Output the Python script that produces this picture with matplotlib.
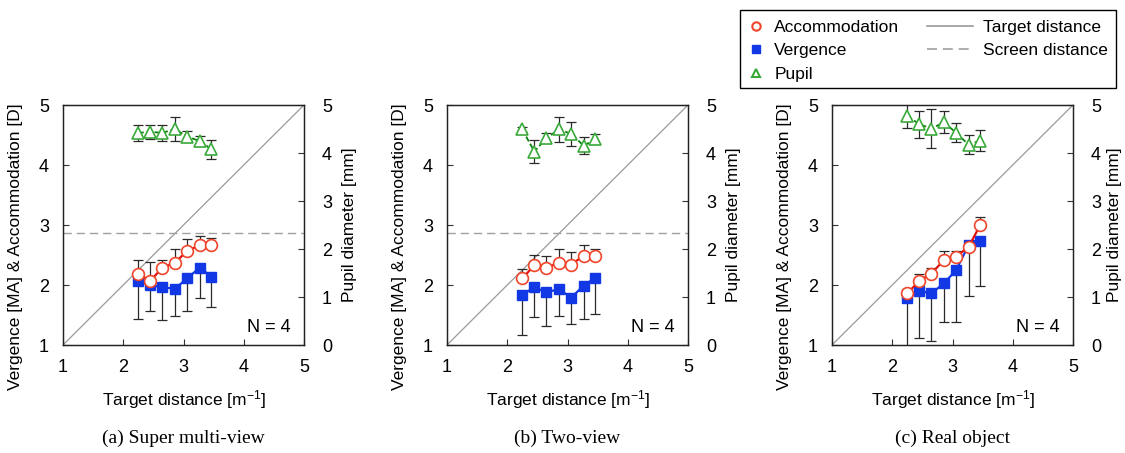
import matplotlib
matplotlib.use("Agg")
import matplotlib.pyplot as plt
from matplotlib.lines import Line2D
from matplotlib.patches import Rectangle
import numpy as np

plt.rcParams['font.family'] = ['Liberation Sans', 'DejaVu Sans']
plt.rcParams['mathtext.fontset'] = 'custom'
plt.rcParams['mathtext.rm'] = 'Liberation Sans'
plt.rcParams['mathtext.default'] = 'regular'

# ---------------- data ----------------
target = [2.25, 2.45, 2.65, 2.86, 3.06, 3.27, 3.46]
panel_titles = ["(a) Super multi-view", "(b) Two-view", "(c) Real object"]
screen_distance = [2.86, 2.86, None]

acc_a = [2.18, 2.07, 2.29, 2.37, 2.57, 2.66, 2.67]
acc_sd_a = [0.24, 0.32, 0.13, 0.23, 0.20, 0.16, 0.11]
verg_a = [2.06, 2.00, 1.96, 1.94, 2.11, 2.29, 2.14]
verg_sd_a = [0.63, 0.44, 0.55, 0.45, 0.54, 0.50, 0.51]
pupil_a = [4.42, 4.44, 4.42, 4.50, 4.34, 4.25, 4.08]
pupil_sd_a = [0.16, 0.14, 0.17, 0.26, 0.12, 0.10, 0.20]

acc_b = [2.11, 2.33, 2.29, 2.37, 2.34, 2.49, 2.49]
acc_sd_b = [0.16, 0.17, 0.20, 0.23, 0.21, 0.18, 0.11]
verg_b = [1.84, 1.96, 1.88, 1.93, 1.79, 1.99, 2.12]
verg_sd_b = [0.68, 0.49, 0.56, 0.44, 0.44, 0.56, 0.60]
pupil_b = [4.49, 4.03, 4.31, 4.49, 4.40, 4.15, 4.29]
pupil_sd_b = [0.05, 0.24, 0.10, 0.27, 0.25, 0.18, 0.10]

acc_c = [1.86, 2.07, 2.19, 2.42, 2.47, 2.64, 3.00]
acc_sd_c = [0.08, 0.11, 0.10, 0.14, 0.10, 0.06, 0.13]
verg_c = [1.78, 1.90, 1.86, 2.03, 2.25, 2.67, 2.74]
verg_sd_c = [0.95, 0.78, 0.80, 0.64, 0.87, 0.86, 0.75]
pupil_c = [4.77, 4.60, 4.51, 4.64, 4.42, 4.17, 4.26]
pupil_sd_c = [0.25, 0.28, 0.41, 0.23, 0.20, 0.20, 0.22]

panels = [
    (acc_a, acc_sd_a, verg_a, verg_sd_a, pupil_a, pupil_sd_a),
    (acc_b, acc_sd_b, verg_b, verg_sd_b, pupil_b, pupil_sd_b),
    (acc_c, acc_sd_c, verg_c, verg_sd_c, pupil_c, pupil_sd_c),
]

ticks_main = [1, 2, 3, 4, 5]
ticks_pupil = [0, 1, 2, 3, 4, 5]

# ---------------- style ----------------
W, H = 1125, 453
fig = plt.figure(figsize=(W / 100, H / 100), dpi=100)

ACC_EDGE = '#f0452a'
ACC_LINE = '#e01010'
VERG_COL = '#1238e6'
PUP_EDGE = '#3aaa3a'
PUP_LINE = '#0a800a'
ERR_COL = '#2a2a2a'
GRAY = '#9a9a9a'

lefts = [63, 447, 832]
right_labelpads = [7, 7, 4.5]
ax_w, ax_h = 241, 240
ax_bottom = 345

for i, (acc, acc_sd, verg, verg_sd, pup, pup_sd) in enumerate(panels):
    ax = fig.add_axes([lefts[i] / W, (H - ax_bottom) / H, ax_w / W, ax_h / H])
    ax.set_xlim(1, 5)
    ax.set_ylim(1, 5)
    ax.set_xticks(ticks_main)
    ax.set_yticks(ticks_main)
    ax.tick_params(direction='in', length=4, width=0.8, labelsize=13, pad=10,
                   right=False, top=False, color='#333333')
    for s in ax.spines.values():
        s.set_linewidth(0.9)
        s.set_color('#222222')

    # target distance (diagonal) and screen distance
    ax.plot([1, 5], [1, 5], color=GRAY, lw=0.9, zorder=1)
    if screen_distance[i] is not None:
        ax.axhline(screen_distance[i], color='#a0a0a0', lw=1.0,
                   dashes=(6, 3.5), zorder=1)

    # vergence: lower error bars only
    ax.errorbar(target, verg, yerr=[verg_sd, np.zeros(len(verg_sd))], fmt='none',
                ecolor=ERR_COL, elinewidth=0.9, capsize=3.5, capthick=0.9, zorder=2)
    # accommodation: upper error bars only
    ax.errorbar(target, acc, yerr=[np.zeros(len(acc_sd)), acc_sd], fmt='none',
                ecolor=ERR_COL, elinewidth=0.9, capsize=3.5, capthick=0.9, zorder=2)
    ax.plot(target, verg, color=VERG_COL, lw=1.6, marker='s', ms=7.5,
            mfc=VERG_COL, mec=VERG_COL, zorder=3)
    ax.plot(target, acc, color=ACC_LINE, lw=1.6, marker='o', ms=8.5,
            mfc='white', mec=ACC_EDGE, mew=1.2, zorder=4)

    ax.set_xlabel('Target distance [m$^{-1}$]', fontsize=12.5, labelpad=9)
    ax.set_ylabel('Vergence [MA] & Accommodation [D]', fontsize=12.5)
    ax.yaxis.set_label_coords(-0.168, 0.41)

    ax.text(0.945, 0.075, 'N = 4', transform=ax.transAxes, ha='right',
            va='center', fontsize=13)

    # pupil on twin axis
    ax2 = ax.twinx()
    ax2.set_ylim(0, 5)
    ax2.set_yticks(ticks_pupil)
    ax2.tick_params(direction='in', length=4, width=0.8, labelsize=13, pad=13,
                    color='#333333')
    for s in ax2.spines.values():
        s.set_linewidth(0.9)
        s.set_color('#222222')
    ax2.errorbar(target, pup, yerr=pup_sd, fmt='none', ecolor=ERR_COL,
                 elinewidth=0.9, capsize=3.5, capthick=0.9, zorder=2)
    ax2.plot(target, pup, color=PUP_LINE, lw=1.3, ls=(0, (3, 1.5)), marker='^',
             ms=8.5, mfc='white', mec=PUP_EDGE, mew=1.2, zorder=3)
    ax2.set_ylabel('Pupil diameter [mm]', fontsize=12.5, labelpad=right_labelpads[i])

    cx = (lefts[i] + ax_w / 2) / W
    fig.text(cx, 1 - 438 / H, panel_titles[i], ha='center', va='center',
             fontsize=14, family='Liberation Serif')

# ---------------- legend ----------------
fig.patches.append(Rectangle((740 / W, 1 - 88 / H), 376 / W, 78 / H,
                             transform=fig.transFigure, fill=False,
                             edgecolor='black', lw=1.0))
h1 = [Line2D([], [], ls='none', marker='o', ms=6, mfc='white', mec=ACC_EDGE, mew=1.5),
      Line2D([], [], ls='none', marker='s', ms=6, mfc=VERG_COL, mec=VERG_COL),
      Line2D([], [], ls='none', marker='^', ms=6, mfc='white', mec=PUP_EDGE, mew=1.5)]
leg1 = fig.legend(h1, ['Accommodation', 'Vergence', 'Pupil'], loc='upper left',
                  bbox_to_anchor=(744 / W, 1 - 16 / H), frameon=False, fontsize=12.5,
                  handlelength=1.0, handletextpad=0.55, labelspacing=0.48,
                  borderpad=0.2, borderaxespad=0)
h2 = [Line2D([], [], color=GRAY, lw=1.2),
      Line2D([], [], color='#a0a0a0', lw=1.2, dashes=(6, 3.5))]
leg2 = fig.legend(h2, ['Target distance', 'Screen distance'], loc='upper left',
                  bbox_to_anchor=(924 / W, 1 - 16 / H), frameon=False, fontsize=12.5,
                  handlelength=2.6, handletextpad=0.6, labelspacing=0.48,
                  borderpad=0.2, borderaxespad=0)

fig.savefig('out.png', dpi=100)
